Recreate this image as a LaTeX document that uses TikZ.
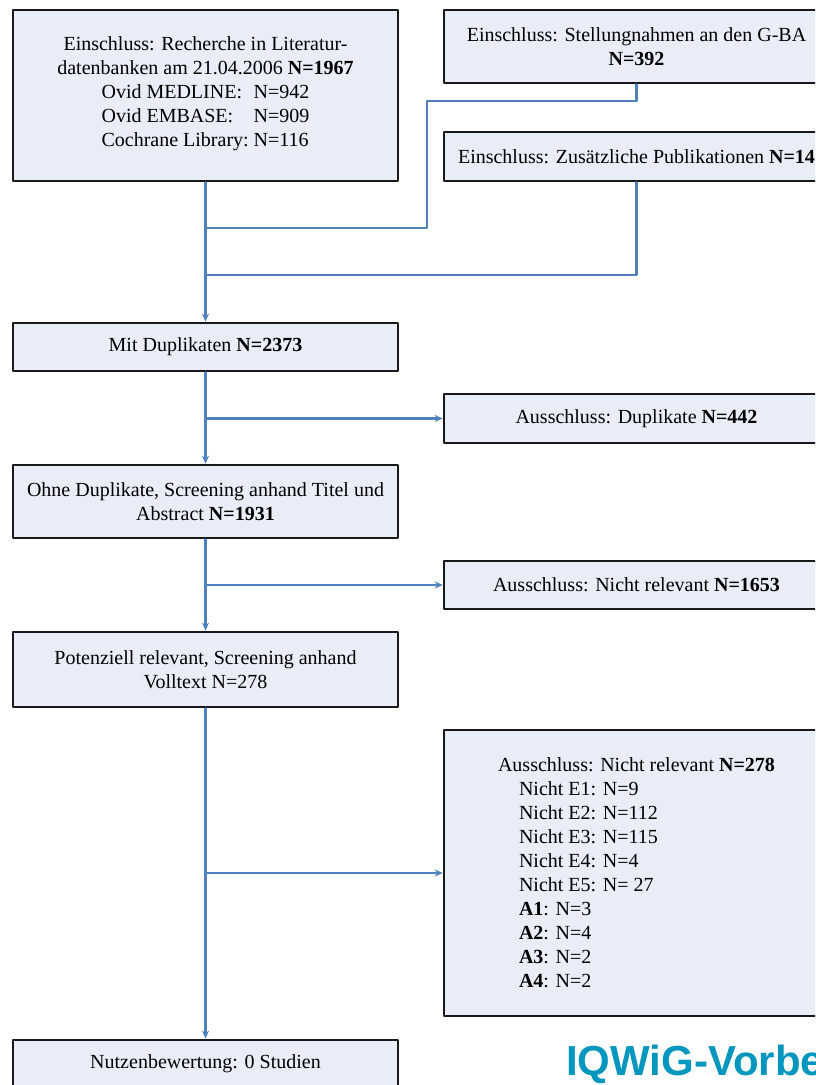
\documentclass[tikz,border=0pt]{standalone}
\usepackage{fontspec}
\setmainfont{Liberation Serif}
\newfontfamily\logofont{Liberation Sans}
\usetikzlibrary{arrows.meta}
\definecolor{flowblue}{RGB}{79,129,189}
\definecolor{boxfill}{RGB}{232,237,247}
\definecolor{logoblue}{RGB}{0,150,190}
\begin{document}
\begin{tikzpicture}[x=1pt, y=-1pt, >={Stealth[length=8pt,width=7pt]}, font=\fontsize{20}{24}\selectfont, line join=round, line cap=round,
    box/.style={draw=black!90, line width=2.6pt, fill=boxfill, minimum width=385pt, inner sep=2pt, align=center},
    flow/.style={draw=flowblue, line width=2.3pt}]
        \def\xl{205.5} \def\xr{636.5} % Spalten
        \useasboundingbox (0,0) rectangle (815,1085);
        \clip (0,0) rectangle (815,1085);

        \node[box, minimum height=171pt] (recherche) at (\xl,95.5) {Einschluss: Recherche in Literatur-\\datenbanken am 21.04.2006 \textbf{N=1967}\\
            \begin{tabular}[t]{@{}l@{\ }l@{}}Ovid MEDLINE: & N=942\\ Ovid EMBASE: & N=909\\ Cochrane Library: & N=116\end{tabular}};
        \node[box, minimum height=73pt] (stellung) at (\xr,46.5) {Einschluss: Stellungnahmen an den G-BA\\\textbf{N=392}};
        \node[box, minimum height=49pt] (zusatz) at (\xr,156.5) {Einschluss: Zusätzliche Publikationen \textbf{N=14}};
        \node[box, minimum height=48pt] (mitdup) at (\xl,347) {Mit Duplikaten \textbf{N=2373}};
        \node[box, minimum height=49pt] (dupaus) at (\xr,418.5) {Ausschluss: Duplikate \textbf{N=442}};
        \node[box, minimum height=73pt] (ohnedup) at (\xl,501.5) {Ohne Duplikate, Screening anhand Titel und\\Abstract \textbf{N=1931}};
        \node[box, minimum height=48pt] (titelaus) at (\xr,585) {Ausschluss: Nicht relevant \textbf{N=1653}};
        \node[box, minimum height=75pt] (potrel) at (\xl,669.5) {Potenziell relevant, Screening anhand\\Volltext N=278};
        \node[box, minimum height=286pt, align=left] (volltextaus) at (\xr,873) {Ausschluss: Nicht relevant \textbf{N=278}\\
            \hspace*{21pt}Nicht E1: N=9\\ \hspace*{21pt}Nicht E2: N=112\\ \hspace*{21pt}Nicht E3: N=115\\
            \hspace*{21pt}Nicht E4: N=4\\ \hspace*{21pt}Nicht E5: N= 27\\ \hspace*{21pt}\textbf{A1}: N=3\\
            \hspace*{21pt}\textbf{A2}: N=4\\ \hspace*{21pt}\textbf{A3}: N=2\\ \hspace*{21pt}\textbf{A4}: N=2};
        \node[box, minimum height=48pt] (nutzen) at (\xl,1064) {Nutzenbewertung: 0 Studien};
        \node[anchor=base west, inner sep=0pt, text=logoblue, font=\logofont\bfseries\fontsize{42}{48}\selectfont] (logo) at (566,1075) {IQWiG-Vorbe};

        \coordinate (k1) at (427,101);
        \coordinate (j1) at (\xl,228);
        \coordinate (j2) at (\xl,275);
        \draw[flow,->] (recherche) -- (mitdup);
        \draw[flow] (stellung.south) |- (k1) |- (j1);
        \draw[flow] (zusatz.south) |- (j2);

        \draw[flow,->] (mitdup) -- (ohnedup);
        \draw[flow,->] (mitdup.south |- dupaus.west) -- (dupaus.west);
        \draw[flow,->] (ohnedup) -- (potrel);
        \draw[flow,->] (ohnedup.south |- titelaus.west) -- (titelaus.west);
        \draw[flow,->] (potrel) -- (nutzen);
        \draw[flow,->] (potrel.south |- volltextaus.west) -- (volltextaus.west);
    \end{tikzpicture}
\end{document}
